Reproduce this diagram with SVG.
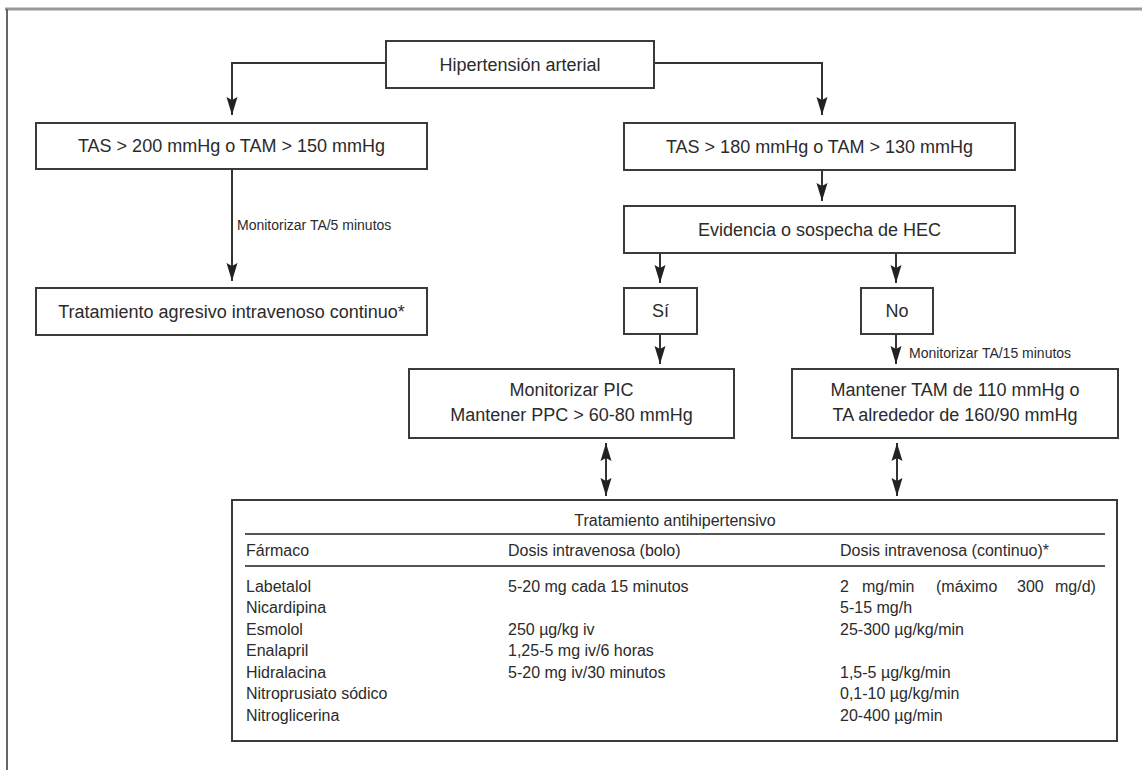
<svg xmlns="http://www.w3.org/2000/svg" width="1142" height="770" viewBox="0 0 1142 770">
<style>
.box{fill:#fff;stroke:#3a3a3a;stroke-width:2}
.t{font-family:"Liberation Sans",Arial,sans-serif;font-size:18px;fill:#2b2b2b;text-anchor:middle}
.s{font-family:"Liberation Sans",Arial,sans-serif;font-size:14px;fill:#2b2b2b}
.tb{font-family:"Liberation Sans",Arial,sans-serif;font-size:16px;fill:#2b2b2b}
.c{fill:none;stroke:#333;stroke-width:2}
.rule{stroke:#555;stroke-width:2}
</style>
<defs>
<marker id="ah" markerUnits="userSpaceOnUse" markerWidth="20" markerHeight="12" refX="18" refY="6" orient="auto-start-reverse" viewBox="0 0 20 12">
<path d="M0,0.5 L18,6 L0,11.5 L3,6 z" fill="#222"/>
</marker>
</defs>
<rect width="1142" height="770" fill="#fff"/>
<g id="frame">
<line x1="5" y1="9" x2="1142" y2="9" stroke="#999" stroke-width="3"/>
<line x1="7" y1="9" x2="7" y2="770" stroke="#666" stroke-width="2"/>
</g>
<g id="connectors">
<polyline class="c" points="386,63 232,63 232,115" marker-end="url(#ah)"/>
<polyline class="c" points="654,63 822,63 822,115" marker-end="url(#ah)"/>
<line class="c" x1="232" y1="170" x2="232" y2="281" marker-end="url(#ah)"/>
<line class="c" x1="822" y1="171" x2="822" y2="201" marker-end="url(#ah)"/>
<line class="c" x1="660" y1="254" x2="660" y2="283" marker-end="url(#ah)"/>
<line class="c" x1="896" y1="254" x2="896" y2="283" marker-end="url(#ah)"/>
<line class="c" x1="660" y1="335" x2="660" y2="364" marker-end="url(#ah)"/>
<line class="c" x1="896" y1="335" x2="896" y2="364" marker-end="url(#ah)"/>
<line class="c" x1="606" y1="443" x2="606" y2="496" marker-start="url(#ah)" marker-end="url(#ah)"/>
<line class="c" x1="897" y1="443" x2="897" y2="496" marker-start="url(#ah)" marker-end="url(#ah)"/>
<text class="s" x="237" y="230">Monitorizar TA/5 minutos</text>
<text class="s" x="909" y="358">Monitorizar TA/15 minutos</text>
</g>
<g id="n-hipertension">
<rect class="box" x="386" y="41" width="268" height="47"/>
<text class="t" x="520" y="71">Hipertensión arterial</text>
</g>
<g id="n-tas200">
<rect class="box" x="36" y="123" width="391" height="46"/>
<text class="t" x="231.5" y="152">TAS &gt; 200 mmHg o TAM &gt; 150 mmHg</text>
</g>
<g id="n-tas180">
<rect class="box" x="624" y="123" width="391" height="47"/>
<text class="t" x="819.5" y="153">TAS &gt; 180 mmHg o TAM &gt; 130 mmHg</text>
</g>
<g id="n-evidencia">
<rect class="box" x="624" y="206" width="391" height="47"/>
<text class="t" x="819.5" y="236">Evidencia o sospecha de HEC</text>
</g>
<g id="n-si">
<rect class="box" x="624" y="288" width="73" height="46"/>
<text class="t" x="660.5" y="317">Sí</text>
</g>
<g id="n-no">
<rect class="box" x="861" y="288" width="72" height="46"/>
<text class="t" x="897" y="317">No</text>
</g>
<g id="n-agresivo">
<rect class="box" x="36" y="288" width="391" height="47"/>
<text class="t" x="231.5" y="318">Tratamiento agresivo intravenoso continuo*</text>
</g>
<g id="n-pic">
<rect class="box" x="409" y="369" width="325" height="69"/>
<text class="t" x="571.5" y="396">Monitorizar PIC</text>
<text class="t" x="571.5" y="421">Mantener PPC &gt; 60-80 mmHg</text>
</g>
<g id="n-tam">
<rect class="box" x="792" y="369" width="326" height="69"/>
<text class="t" x="955" y="396">Mantener TAM de 110 mmHg o</text>
<text class="t" x="955" y="421">TA alrededor de 160/90 mmHg</text>
</g>
<g id="n-tabla">
<rect class="box" x="232" y="500" width="885" height="241"/>
<text class="tb" x="675" y="526" text-anchor="middle" font-size="17">Tratamiento antihipertensivo</text>
<line class="rule" x1="245" y1="534" x2="1105" y2="534"/>
<text class="tb" x="246" y="556">Fármaco</text>
<text class="tb" x="508" y="556">Dosis intravenosa (bolo)</text>
<text class="tb" x="840" y="556">Dosis intravenosa (continuo)*</text>
<line class="rule" x1="245" y1="566" x2="1105" y2="566"/>
<g class="tb">
<text class="tb" x="246" y="591.5">Labetalol</text>
<text class="tb" x="246" y="613">Nicardipina</text>
<text class="tb" x="246" y="634.5">Esmolol</text>
<text class="tb" x="246" y="656">Enalapril</text>
<text class="tb" x="246" y="677.5">Hidralacina</text>
<text class="tb" x="246" y="699">Nitroprusiato sódico</text>
<text class="tb" x="246" y="720.5">Nitroglicerina</text>
<text class="tb" x="508" y="591.5">5-20 mg cada 15 minutos</text>
<text class="tb" x="508" y="634.5">250 µg/kg iv</text>
<text class="tb" x="508" y="656">1,25-5 mg iv/6 horas</text>
<text class="tb" x="508" y="677.5">5-20 mg iv/30 minutos</text>
<text class="tb" x="840" y="591.5">2</text>
<text class="tb" x="862" y="591.5">mg/min</text>
<text class="tb" x="936" y="591.5">(máximo</text>
<text class="tb" x="1017" y="591.5">300</text>
<text class="tb" x="1055" y="591.5">mg/d)</text>
<text class="tb" x="840" y="613">5-15 mg/h</text>
<text class="tb" x="840" y="634.5">25-300 µg/kg/min</text>
<text class="tb" x="840" y="677.5">1,5-5 µg/kg/min</text>
<text class="tb" x="840" y="699">0,1-10 µg/kg/min</text>
<text class="tb" x="840" y="720.5">20-400 µg/min</text>
</g>
</g>
</svg>
